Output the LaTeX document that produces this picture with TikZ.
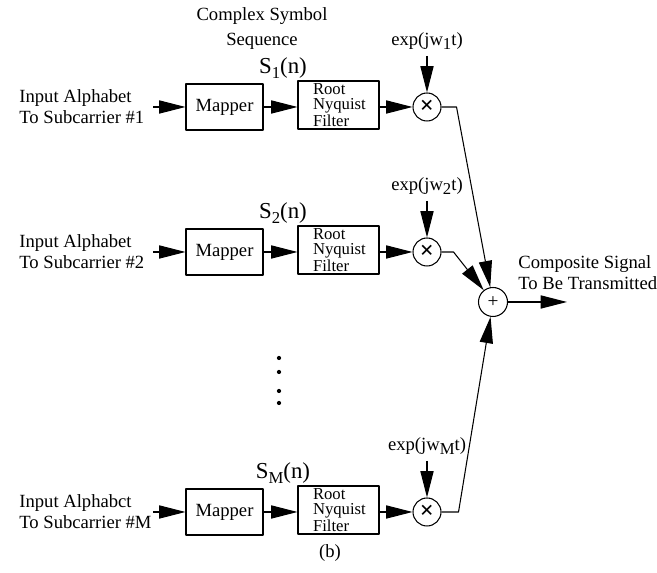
\documentclass[tikz,border=0pt]{standalone}
\usepackage{fontspec}
\setmainfont{Liberation Serif}
\usetikzlibrary{arrows.meta}
\newcommand\subidx[1]{\raisebox{-0.45ex}{\fontsize{9.5}{9.5}\selectfont #1}}
\tikzset{
  mapbox/.style={draw, minimum width=1.54cm, minimum height=0.92cm, inner sep=0pt},
  filtbox/.style={draw, minimum width=1.62cm, minimum height=0.96cm, inner sep=0pt,
    text width=1.02cm, align=left, font=\fontsize{9.5}{8.6}\selectfont},
  opcirc/.style={draw, circle, minimum size=0.56cm, inner sep=0pt},
}
\begin{document}
\begin{tikzpicture}[x=0.02cm, y=-0.02cm, >={Triangle[length=15pt,width=7.5pt]},
  font=\fontsize{10.6}{12}\selectfont, line width=0.6pt, line join=round]
\useasboundingbox (0,0) rectangle (657,573);
%	\draw[color=gray!50,dashed] (0,0) grid[step=50] (657,573);
\node[align=center] (hdr) at (262,29) {Complex Symbol\\[2.2pt]Sequence};
\foreach \r/\y/\a in {1/107/Alphabet, 2/252/Alphabet, M/512/Alphabct} {
  \node[align=left, anchor=west] (in\r) at (13,\y) {Input \a\\To Subcarrier \#\r};
  \coordinate (src\r) at (153,\y);
  \node[mapbox] (map\r) at (224.5,\y) {Mapper};
  \node[filtbox] (filt\r) at (338.5,\y-2) {Root\\Nyquist\\Filter};
  \node[opcirc] (mult\r) at (427,\y) {\fontsize{14}{14}\selectfont\bfseries ×};
  \node[font=\fontsize{13}{13}\selectfont] (s\r) at (283,\y-39) {S\subidx{\r}(n)};
  \node (w\r) at (427,\y-66) {exp(jw\subidx{\r}t)};
  \draw[->] (src\r) -- (map\r);
  \draw[->] (map\r) -- (filt\r.west |- map\r);
  \draw[->] (filt\r.east |- mult\r) -- (mult\r);
  \draw[->] (w\r.south -| mult\r) -- (mult\r);
}
\node[opcirc, minimum size=0.58cm] (sum) at (493,302) {\fontsize{11}{11}\selectfont +};
\foreach \r/\d in {1/15, 2/12, M/17}
  \draw[->] (mult\r.east) -- ++(\d,0) -- (sum);
\coordinate (out) at (567,302);
\draw[->] (sum) -- (out);
\node[align=left, anchor=west] (comp) at (512,273) {Composite Signal\\To Be Transmitted};
\foreach \d in {358,372,391,403}
  \fill (279,\d) circle (1.2pt);
\node (cap) at (330,553) {(b)};
\end{tikzpicture}
\end{document}
